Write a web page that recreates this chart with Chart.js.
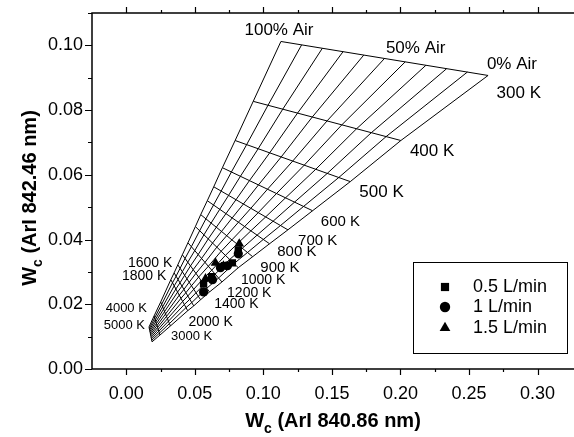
<!DOCTYPE html>
<html>
<head>
<meta charset="utf-8">
<script src="https://cdn.jsdelivr.net/npm/chart.js@4"></script>
<style>
  html, body { margin: 0; padding: 0; background: #fff; overflow: hidden; }
</style>
</head>
<body>
<canvas id="chart" width="574" height="437"></canvas>
<script>
// Nomogram: temperature lines (K)
const temps = [300, 400, 500, 600, 700, 800, 900, 1000, 1200, 1400, 1600, 1800, 2000, 3000, 4000, 5000];
// end of each temperature line at 100 % air (x = Wc ArI 840.86, y = Wc ArI 842.46)
const air100X = [0.1128, 0.0926, 0.0794, 0.0701, 0.0638, 0.0591, 0.0543, 0.0504, 0.0450, 0.0409, 0.0376, 0.0349, 0.0325, 0.0251, 0.0203, 0.0166];
const air100Y = [0.1012, 0.0827, 0.0706, 0.0622, 0.0563, 0.0520, 0.0477, 0.0440, 0.0390, 0.0353, 0.0322, 0.0297, 0.0276, 0.0207, 0.0164, 0.0130];
// end of each temperature line at 0 % air
const air0X = [0.2639, 0.2003, 0.1634, 0.1359, 0.1179, 0.1045, 0.0922, 0.0817, 0.0698, 0.0607, 0.0542, 0.0492, 0.0448, 0.0322, 0.0246, 0.0188];
const air0Y = [0.0907, 0.0706, 0.0579, 0.0489, 0.0430, 0.0387, 0.0347, 0.0313, 0.0269, 0.0238, 0.0214, 0.0195, 0.0180, 0.0133, 0.0105, 0.0084];
// air fractions (%) of the lines crossing the temperature lines
const airSteps = [100, 90, 80, 70, 60, 50, 40, 30, 20, 10, 0];

// measurements
const flowLabels = ["0.5 L/min", "1 L/min", "1.5 L/min"];
const flow05X = [0.0564, 0.0622, 0.0716, 0.0774, 0.0817];
const flow05Y = [0.0263, 0.0285, 0.0319, 0.0328, 0.0368];
const flow1X = [0.0564, 0.0629, 0.0687, 0.0738, 0.0817];
const flow1Y = [0.0238, 0.0276, 0.0313, 0.0319, 0.0356];
const flow15X = [0.0578, 0.0651, 0.0709, 0.0824];
const flow15Y = [0.0279, 0.0328, 0.0319, 0.0387];

// where the texts of the nomogram sit (data units) and their size
const textSpots = [
    ["100% Air", 0.1114, 0.1045, 17],
    ["50% Air", 0.2111, 0.0992, 17],
    ["0% Air", 0.2813, 0.0941, 17],
    ["300 K", 0.2863, 0.0851, 17],
    ["400 K", 0.2231, 0.0672, 17],
    ["500 K", 0.1862, 0.0545, 17],
    ["600 K", 0.1562, 0.0455, 15],
    ["700 K", 0.1396, 0.0396, 15],
    ["800 K", 0.1244, 0.0361, 15],
    ["900 K", 0.1121, 0.0313, 15],
    ["1000 K", 0.0998, 0.0276, 14],
    ["1200 K", 0.0897, 0.0235, 14],
    ["1400 K", 0.0803, 0.0201, 14],
    ["1600 K", 0.0174, 0.0328, 14],
    ["1800 K", 0.0130, 0.0288, 14],
    ["2000 K", 0.0615, 0.0146, 14],
    ["3000 K", 0.0477, 0.0102, 13],
    ["4000 K", 0.0000, 0.0186, 13],
    ["5000 K", -0.0014, 0.0136, 13]
];

const FONT = "'Liberation Sans', Arial, Helvetica, sans-serif";

const toPts = (xs, ys) => xs.map((v, i) => ({ x: v, y: ys[i] }));

// grid lines
const datasets = [];
temps.forEach((t, i) => {
    datasets.push({
        label: t + " K",
        data: [{ x: air100X[i], y: air100Y[i] }, { x: air0X[i], y: air0Y[i] }],
        showLine: true, borderColor: "#000", borderWidth: 1,
        pointRadius: 0, order: 2
    });
});
airSteps.forEach(a => {
    const f = a / 100;
    datasets.push({
        label: a + "% Air",
        data: temps.map((t, i) => ({
            x: air0X[i] + f * (air100X[i] - air0X[i]),
            y: air0Y[i] + f * (air100Y[i] - air0Y[i])
        })),
        showLine: true, borderColor: "#000", borderWidth: 1,
        pointRadius: 0, order: 2
    });
});

const markerStyles = ["rect", "circle", "triangle"];
const markerRadius = [5.2, 4.6, 5.6];
[[flow05X, flow05Y], [flow1X, flow1Y], [flow15X, flow15Y]].forEach((s, k) => {
    datasets.push({
        label: flowLabels[k],
        data: toPts(s[0], s[1]),
        showLine: false,
        pointStyle: markerStyles[k],
        pointRadius: markerRadius[k],
        backgroundColor: "#000", borderColor: "#000", borderWidth: 0,
        order: 1
    });
});

function drawMarker(ctx, style, x, y, r) {
    ctx.beginPath();
    if (style === "rect") {
        const s = r * Math.SQRT1_2;
        ctx.rect(x - s, y - s, 2 * s, 2 * s);
    } else if (style === "circle") {
        ctx.arc(x, y, r, 0, Math.PI * 2);
    } else {
        ctx.moveTo(x, y - r);
        ctx.lineTo(x + r * 0.866, y + r * 0.5);
        ctx.lineTo(x - r * 0.866, y + r * 0.5);
        ctx.closePath();
    }
    ctx.fill();
}

const decorations = {
    id: "decorations",
    afterDatasetsDraw(chart) {
        const { ctx, scales: { x, y } } = chart;
        ctx.save();
        ctx.fillStyle = "#000";
        ctx.textAlign = "center";
        ctx.textBaseline = "middle";
        textSpots.forEach(([txt, vx, vy, size]) => {
            ctx.font = size + "px " + FONT;
            ctx.fillText(txt, x.getPixelForValue(vx), y.getPixelForValue(vy));
        });
        ctx.restore();
    },
    afterDraw(chart) {
        const { ctx, chartArea: a, scales: { x, y } } = chart;
        ctx.save();
        ctx.strokeStyle = "#000";
        ctx.fillStyle = "#000";

        // frame (right side is outside the picture)
        ctx.lineWidth = 1.5;
        ctx.beginPath();
        ctx.moveTo(chart.width, a.top);
        ctx.lineTo(a.left, a.top);
        ctx.lineTo(a.left, a.bottom);
        ctx.lineTo(chart.width, a.bottom);
        ctx.stroke();

        // ticks
        ctx.lineWidth = 1.2;
        ctx.beginPath();
        for (let k = 0; k <= 13; k++) {
            const px = Math.round(x.getPixelForValue(k * 0.025)) + 0.5;
            if (px > a.right) continue;
            const len = k % 2 === 0 ? 6 : 3;
            ctx.moveTo(px, a.bottom);
            ctx.lineTo(px, a.bottom + len);
            ctx.moveTo(px, a.top);
            ctx.lineTo(px, a.top - len);
        }
        for (let k = 0; k <= 11; k++) {
            const py = Math.round(y.getPixelForValue(k * 0.01)) + 0.5;
            const len = k % 2 === 0 ? 7 : 4;
            ctx.moveTo(a.left, py);
            ctx.lineTo(a.left - len, py);
        }
        ctx.stroke();

        // axis titles with subscript
        const title = (pre, sub, post, size) => {
            ctx.font = "bold " + size + "px " + FONT;
            const w1 = ctx.measureText(pre).width;
            const w3 = ctx.measureText(post).width;
            ctx.font = "bold " + Math.round(size * 0.68) + "px " + FONT;
            const w2 = ctx.measureText(sub).width;
            const total = w1 + w2 + w3;
            let cx = -total / 2;
            ctx.textAlign = "left";
            ctx.textBaseline = "alphabetic";
            ctx.font = "bold " + size + "px " + FONT;
            ctx.fillText(pre, cx, 0);
            cx += w1;
            ctx.font = "bold " + Math.round(size * 0.68) + "px " + FONT;
            ctx.fillText(sub, cx, size * 0.28);
            cx += w2;
            ctx.font = "bold " + size + "px " + FONT;
            ctx.fillText(post, cx, 0);
        };
        ctx.save();
        ctx.translate(333, 427);
        title("W", "c", " (ArI 840.86 nm)", 20);
        ctx.restore();
        ctx.save();
        ctx.translate(36, 198);
        ctx.rotate(-Math.PI / 2);
        title("W", "c", " (ArI 842.46 nm)", 20);
        ctx.restore();

        // legend
        ctx.lineWidth = 1;
        ctx.strokeRect(413.5, 262.5, 154, 91);
        ctx.font = "18px " + FONT;
        ctx.textAlign = "left";
        ctx.textBaseline = "middle";
        const rows = [287, 307, 328];
        flowLabels.forEach((lab, k) => {
            drawMarker(ctx, markerStyles[k], 445, rows[k], markerRadius[k] + 0.6);
            ctx.fillText(lab, 473, rows[k]);
        });
        ctx.restore();
    }
};

new Chart(document.getElementById("chart"), {
    type: "scatter",
    data: { datasets: datasets },
    options: {
        responsive: false,
        animation: false,
        devicePixelRatio: 1,
        layout: { padding: { top: 13, right: 0, left: 0, bottom: 0 } },
        plugins: { legend: { display: false }, tooltip: { enabled: false } },
        scales: {
            x: {
                type: "linear", min: -0.025, max: 0.3225,
                grid: { display: false, drawTicks: false },
                border: { display: false },
                ticks: {
                    stepSize: 0.025, includeBounds: false, autoSkip: false, maxRotation: 0, padding: 14,
                    color: "#000", font: { family: FONT, size: 18 },
                    callback: v => {
                        const m = Math.round(v * 1000);
                        return (m % 50 === 0 && m >= 0 && m <= 300) ? v.toFixed(2) : "";
                    }
                },
                afterFit: s => { s.height = 68; s.paddingLeft = 0; s.paddingRight = 0; }
            },
            y: {
                type: "linear", min: 0, max: 0.11,
                grid: { display: false, drawTicks: false },
                border: { display: false },
                ticks: {
                    stepSize: 0.01, includeBounds: false, autoSkip: false, padding: 9,
                    color: "#000", font: { family: FONT, size: 18 },
                    callback: v => {
                        const m = Math.round(v * 1000);
                        return (m % 20 === 0 && m <= 100) ? v.toFixed(2) : "";
                    }
                },
                afterFit: s => { s.width = 92; s.paddingTop = 0; s.paddingBottom = 0; }
            }
        }
    },
    plugins: [decorations]
});
</script>
</body>
</html>
